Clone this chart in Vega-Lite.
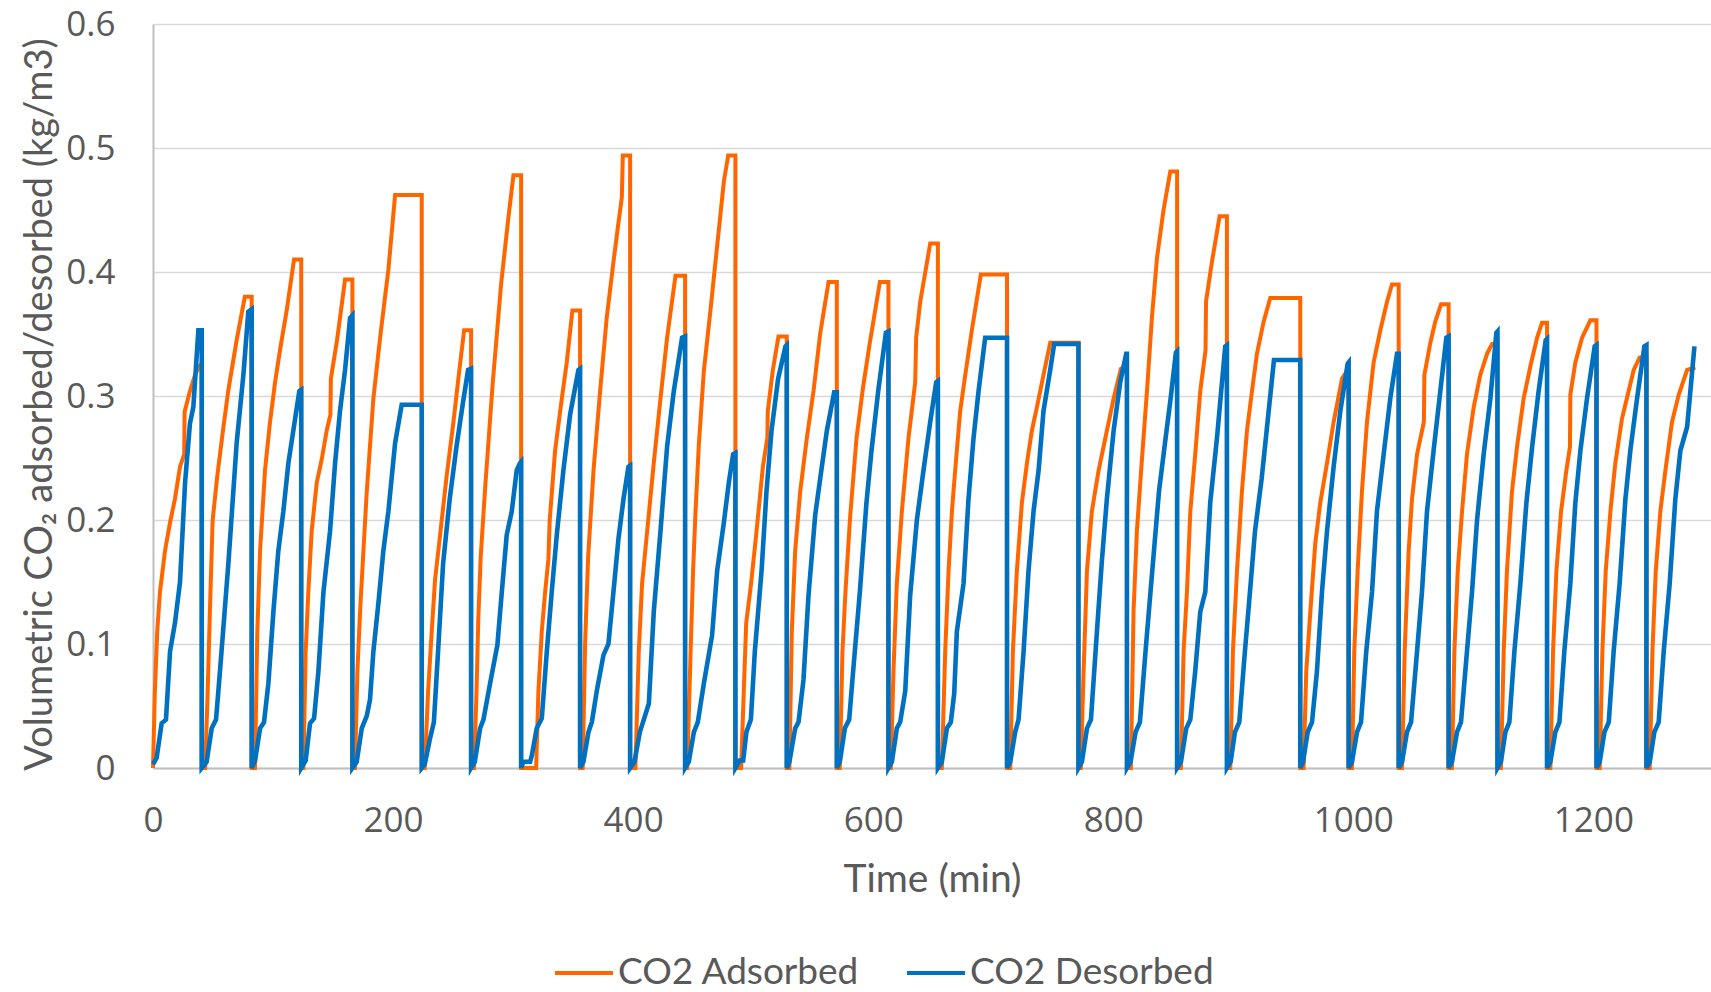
{
"$schema": "https://vega.github.io/schema/vega-lite/v6.json",
"width": 1558, "height": 744,
"autosize": "none",
"padding": {"left": 153, "top": 24, "right": 0, "bottom": 224},
"background": "white",
"config": {"view": {"stroke": null}, "font": "Lato"},
"datasets": {
"ads": [
{"t":0,"v":0},{"t":1.5,"v":0.06},{"t":3.5,"v":0.11},{"t":5.8,"v":0.142},{"t":10,"v":0.175},{"t":14.2,"v":0.198},{"t":18.3,"v":0.217},{"t":22.5,"v":0.243},{"t":26,"v":0.253},{"t":26.3,"v":0.287},{"t":30.8,"v":0.304},{"t":35,"v":0.317},{"t":38.6,"v":0.324},{"t":40.6,"v":0.326},{"t":40.6,"v":0},
{"t":43.5,"v":0},{"t":45.5,"v":0.06},{"t":47.5,"v":0.13},{"t":49.7,"v":0.2},{"t":53.5,"v":0.235},{"t":58,"v":0.27},{"t":62.8,"v":0.305},{"t":69.7,"v":0.345},{"t":76.5,"v":0.38},{"t":82.2,"v":0.38},{"t":82.2,"v":0},
{"t":85,"v":0},{"t":86.9,"v":0.11},{"t":89.2,"v":0.175},{"t":93.3,"v":0.24},{"t":97.5,"v":0.279},{"t":101.7,"v":0.311},{"t":105.8,"v":0.337},{"t":111.4,"v":0.369},{"t":117.5,"v":0.41},{"t":123.5,"v":0.41},{"t":123.5,"v":0},
{"t":125.3,"v":0},{"t":127.2,"v":0.094},{"t":129.4,"v":0.142},{"t":132.2,"v":0.191},{"t":136.4,"v":0.23},{"t":140.6,"v":0.249},{"t":144.7,"v":0.272},{"t":147.8,"v":0.285},{"t":148.2,"v":0.314},{"t":153,"v":0.343},{"t":155.8,"v":0.363},{"t":160,"v":0.394},{"t":166.1,"v":0.394},{"t":166.1,"v":0},
{"t":168.3,"v":0},{"t":170.3,"v":0.078},{"t":172.5,"v":0.126},{"t":175.3,"v":0.175},{"t":178.1,"v":0.223},{"t":183.6,"v":0.298},{"t":189.2,"v":0.347},{"t":196.1,"v":0.402},{"t":201.7,"v":0.462},{"t":223.9,"v":0.462},{"t":223.9,"v":0},
{"t":226.4,"v":0},{"t":229.2,"v":0.062},{"t":232.2,"v":0.11},{"t":235,"v":0.152},{"t":239.2,"v":0.188},{"t":244.7,"v":0.236},{"t":250.3,"v":0.279},{"t":254.4,"v":0.314},{"t":259.2,"v":0.353},{"t":265,"v":0.353},{"t":265,"v":0},
{"t":267.5,"v":0},{"t":269.5,"v":0.06},{"t":271,"v":0.12},{"t":273,"v":0.17},{"t":277,"v":0.23},{"t":283,"v":0.31},{"t":290,"v":0.39},{"t":296.1,"v":0.444},{"t":300.3,"v":0.478},{"t":306.7,"v":0.478},{"t":306.7,"v":0},
{"t":319.2,"v":0},{"t":321.1,"v":0.062},{"t":323.9,"v":0.11},{"t":326.7,"v":0.142},{"t":329.4,"v":0.168},{"t":330.5,"v":0.2},{"t":335,"v":0.256},{"t":340.6,"v":0.298},{"t":344.7,"v":0.327},{"t":349.4,"v":0.369},{"t":355.8,"v":0.369},{"t":355.8,"v":0},
{"t":358,"v":0},{"t":360,"v":0.1},{"t":362.5,"v":0.17},{"t":367,"v":0.24},{"t":372.5,"v":0.304},{"t":378,"v":0.363},{"t":383.6,"v":0.408},{"t":387.8,"v":0.44},{"t":390.6,"v":0.46},{"t":391.4,"v":0.494},{"t":397.5,"v":0.494},{"t":397.5,"v":0},
{"t":401.9,"v":0},{"t":404.7,"v":0.094},{"t":407.5,"v":0.149},{"t":411.7,"v":0.191},{"t":417.2,"v":0.246},{"t":422.8,"v":0.298},{"t":428.3,"v":0.347},{"t":435.3,"v":0.397},{"t":443.3,"v":0.397},{"t":443.3,"v":0},
{"t":445.1,"v":0},{"t":447.9,"v":0.094},{"t":450,"v":0.16},{"t":452,"v":0.207},{"t":454.7,"v":0.26},{"t":458.9,"v":0.32},{"t":464.4,"v":0.369},{"t":470,"v":0.421},{"t":475.6,"v":0.473},{"t":479.2,"v":0.494},{"t":485.2,"v":0.494},{"t":485.2,"v":0},
{"t":490,"v":0},{"t":492.2,"v":0.062},{"t":494.2,"v":0.117},{"t":498.3,"v":0.149},{"t":502.5,"v":0.188},{"t":508.1,"v":0.243},{"t":511.8,"v":0.266},{"t":512.2,"v":0.288},{"t":516.4,"v":0.321},{"t":521.1,"v":0.348},{"t":528,"v":0.348},{"t":528,"v":0},
{"t":530.2,"v":0},{"t":532.2,"v":0.11},{"t":535,"v":0.175},{"t":539.2,"v":0.223},{"t":544.7,"v":0.266},{"t":550.3,"v":0.304},{"t":555.8,"v":0.35},{"t":562.8,"v":0.392},{"t":569.7,"v":0.392},{"t":569.7,"v":0},
{"t":572.2,"v":0},{"t":574.4,"v":0.094},{"t":576.9,"v":0.142},{"t":580.6,"v":0.2},{"t":586.1,"v":0.266},{"t":591.7,"v":0.308},{"t":597.2,"v":0.343},{"t":605.6,"v":0.392},{"t":612.7,"v":0.392},{"t":612.7,"v":0},
{"t":614.7,"v":0},{"t":616.9,"v":0.078},{"t":619.7,"v":0.149},{"t":623.9,"v":0.207},{"t":629.4,"v":0.266},{"t":635,"v":0.311},{"t":635.8,"v":0.347},{"t":639.2,"v":0.376},{"t":647.5,"v":0.423},{"t":653.9,"v":0.423},{"t":653.9,"v":0},
{"t":657.2,"v":0},{"t":660,"v":0.094},{"t":662.8,"v":0.159},{"t":665.6,"v":0.207},{"t":668.3,"v":0.24},{"t":672.5,"v":0.288},{"t":676.7,"v":0.317},{"t":682.2,"v":0.353},{"t":689.7,"v":0.398},{"t":711.5,"v":0.398},{"t":711.5,"v":0},
{"t":714.2,"v":0},{"t":716.4,"v":0.094},{"t":719.7,"v":0.159},{"t":723.9,"v":0.214},{"t":728.1,"v":0.246},{"t":732.2,"v":0.272},{"t":736.4,"v":0.291},{"t":741.9,"v":0.317},{"t":747.5,"v":0.343},{"t":771,"v":0.343},{"t":771,"v":0},
{"t":773,"v":0},{"t":775.3,"v":0.078},{"t":778.1,"v":0.159},{"t":782.2,"v":0.207},{"t":787.8,"v":0.24},{"t":794.7,"v":0.272},{"t":800.3,"v":0.298},{"t":806.4,"v":0.322},{"t":811.4,"v":0.325},{"t":811.4,"v":0},
{"t":814.7,"v":0},{"t":816.9,"v":0.126},{"t":819.7,"v":0.191},{"t":823.9,"v":0.249},{"t":828.1,"v":0.304},{"t":832.2,"v":0.363},{"t":836.4,"v":0.411},{"t":841.9,"v":0.45},{"t":847.5,"v":0.481},{"t":853.2,"v":0.481},{"t":853.2,"v":0},
{"t":856.4,"v":0},{"t":858.6,"v":0.094},{"t":861.4,"v":0.142},{"t":864.2,"v":0.207},{"t":868.3,"v":0.253},{"t":872.5,"v":0.304},{"t":876.9,"v":0.337},{"t":877.3,"v":0.376},{"t":882.2,"v":0.408},{"t":888.6,"v":0.445},{"t":894.7,"v":0.445},{"t":894.7,"v":0},
{"t":897.5,"v":0},{"t":899.7,"v":0.094},{"t":903.1,"v":0.159},{"t":907.2,"v":0.223},{"t":911.4,"v":0.272},{"t":915.6,"v":0.304},{"t":919.7,"v":0.334},{"t":925.3,"v":0.36},{"t":930.8,"v":0.379},{"t":955.8,"v":0.379},{"t":955.8,"v":0},
{"t":958.6,"v":0},{"t":960.8,"v":0.078},{"t":964.2,"v":0.126},{"t":968.3,"v":0.181},{"t":972.5,"v":0.214},{"t":978.1,"v":0.246},{"t":983.6,"v":0.279},{"t":990.6,"v":0.314},{"t":996.1,"v":0.322},{"t":996.1,"v":0},
{"t":998.9,"v":0},{"t":1000.8,"v":0.094},{"t":1003.6,"v":0.159},{"t":1007.2,"v":0.223},{"t":1011.4,"v":0.279},{"t":1016.9,"v":0.327},{"t":1022.5,"v":0.353},{"t":1028.1,"v":0.376},{"t":1032.2,"v":0.39},{"t":1037.8,"v":0.39},{"t":1037.8,"v":0},
{"t":1040.6,"v":0},{"t":1042.8,"v":0.094},{"t":1046.1,"v":0.175},{"t":1048.9,"v":0.217},{"t":1053.1,"v":0.253},{"t":1058.8,"v":0.279},{"t":1059.2,"v":0.317},{"t":1064.2,"v":0.343},{"t":1068.3,"v":0.36},{"t":1073.1,"v":0.374},{"t":1079.4,"v":0.374},{"t":1079.4,"v":0},
{"t":1082.2,"v":0},{"t":1084.2,"v":0.094},{"t":1087,"v":0.159},{"t":1090.6,"v":0.207},{"t":1094.7,"v":0.253},{"t":1100.3,"v":0.291},{"t":1105.8,"v":0.317},{"t":1111.4,"v":0.334},{"t":1115.6,"v":0.342},{"t":1120.1,"v":0.343},{"t":1120.1,"v":0},
{"t":1123,"v":0},{"t":1125.3,"v":0.094},{"t":1128,"v":0.159},{"t":1132.2,"v":0.223},{"t":1136.4,"v":0.259},{"t":1141.9,"v":0.298},{"t":1147.5,"v":0.324},{"t":1153.1,"v":0.347},{"t":1157.2,"v":0.359},{"t":1161.4,"v":0.359},{"t":1161.4,"v":0},
{"t":1164.2,"v":0},{"t":1166.4,"v":0.094},{"t":1169.2,"v":0.159},{"t":1173.1,"v":0.207},{"t":1177.5,"v":0.24},{"t":1180.5,"v":0.259},{"t":1180.8,"v":0.301},{"t":1185,"v":0.327},{"t":1190.6,"v":0.347},{"t":1197.5,"v":0.361},{"t":1202.6,"v":0.361},{"t":1202.6,"v":0},
{"t":1205.3,"v":0},{"t":1207.5,"v":0.094},{"t":1210.3,"v":0.159},{"t":1214.2,"v":0.207},{"t":1218.3,"v":0.246},{"t":1223.9,"v":0.282},{"t":1229.4,"v":0.304},{"t":1233.6,"v":0.321},{"t":1238.6,"v":0.331},{"t":1244.2,"v":0.332},{"t":1244.2,"v":0},
{"t":1247,"v":0},{"t":1249.2,"v":0.094},{"t":1252,"v":0.159},{"t":1255.8,"v":0.207},{"t":1260,"v":0.24},{"t":1265.5,"v":0.279},{"t":1271.1,"v":0.301},{"t":1278.1,"v":0.321},{"t":1285,"v":0.323}
],
"des": [
{"t":0,"v":0.003},{"t":3,"v":0.008},{"t":7.2,"v":0.036},{"t":10.8,"v":0.039},{"t":14.2,"v":0.094},{"t":18.3,"v":0.117},{"t":22.5,"v":0.15},{"t":26.7,"v":0.23},{"t":30.8,"v":0.278},{"t":33.6,"v":0.291},{"t":37.8,"v":0.353},{"t":40.6,"v":0.353},{"t":40.6,"v":0},
{"t":44.7,"v":0.005},{"t":48.9,"v":0.032},{"t":52.5,"v":0.039},{"t":55.8,"v":0.078},{"t":62.8,"v":0.165},{"t":69.7,"v":0.262},{"t":75.3,"v":0.317},{"t":79.4,"v":0.368},{"t":82.2,"v":0.37},{"t":82.2,"v":0},
{"t":85,"v":0.006},{"t":89.2,"v":0.032},{"t":92.5,"v":0.037},{"t":96.1,"v":0.068},{"t":100.3,"v":0.126},{"t":104.4,"v":0.175},{"t":108.6,"v":0.207},{"t":112.8,"v":0.246},{"t":116.9,"v":0.272},{"t":121.9,"v":0.304},{"t":123.5,"v":0.305},{"t":123.5,"v":0},
{"t":127.2,"v":0.006},{"t":130.8,"v":0.036},{"t":134.2,"v":0.04},{"t":137.8,"v":0.078},{"t":142,"v":0.142},{"t":147.5,"v":0.191},{"t":151.7,"v":0.246},{"t":155.8,"v":0.288},{"t":160,"v":0.321},{"t":164.2,"v":0.363},{"t":166.1,"v":0.365},{"t":166.1,"v":0},
{"t":169.7,"v":0.005},{"t":173.9,"v":0.032},{"t":178.1,"v":0.042},{"t":180.8,"v":0.055},{"t":183.6,"v":0.094},{"t":187.8,"v":0.133},{"t":191.9,"v":0.175},{"t":196.1,"v":0.207},{"t":201.7,"v":0.262},{"t":207.2,"v":0.293},{"t":223.9,"v":0.293},{"t":223.9,"v":0},
{"t":226.4,"v":0.003},{"t":230.6,"v":0.023},{"t":234,"v":0.037},{"t":237.5,"v":0.094},{"t":241.7,"v":0.165},{"t":247.2,"v":0.217},{"t":252.8,"v":0.259},{"t":258.3,"v":0.295},{"t":262.5,"v":0.321},{"t":265,"v":0.322},{"t":265,"v":0},
{"t":268.1,"v":0.005},{"t":272.5,"v":0.032},{"t":275.3,"v":0.039},{"t":280.8,"v":0.068},{"t":286.9,"v":0.099},{"t":290.6,"v":0.142},{"t":294.7,"v":0.188},{"t":298.9,"v":0.207},{"t":303,"v":0.24},{"t":305.8,"v":0.246},{"t":306.7,"v":0.247},{"t":306.7,"v":0},
{"t":308.6,"v":0.005},{"t":314.2,"v":0.005},{"t":315.6,"v":0.01},{"t":319.7,"v":0.032},{"t":323.9,"v":0.04},{"t":328.1,"v":0.094},{"t":332.2,"v":0.142},{"t":336.4,"v":0.188},{"t":341.9,"v":0.24},{"t":347.5,"v":0.285},{"t":354.4,"v":0.321},{"t":355.8,"v":0.322},{"t":355.8,"v":0},
{"t":358.6,"v":0.005},{"t":362.8,"v":0.029},{"t":365.6,"v":0.037},{"t":369.7,"v":0.062},{"t":375.3,"v":0.091},{"t":379.4,"v":0.1},{"t":383.6,"v":0.142},{"t":387.8,"v":0.185},{"t":392,"v":0.217},{"t":396.1,"v":0.243},{"t":397.5,"v":0.244},{"t":397.5,"v":0},
{"t":401.1,"v":0.005},{"t":405.6,"v":0.029},{"t":408.9,"v":0.039},{"t":413.1,"v":0.052},{"t":417.2,"v":0.126},{"t":422.8,"v":0.191},{"t":428.3,"v":0.259},{"t":433.9,"v":0.304},{"t":440.8,"v":0.347},{"t":443.3,"v":0.348},{"t":443.3,"v":0},
{"t":446.4,"v":0.005},{"t":450.6,"v":0.029},{"t":453.9,"v":0.037},{"t":458.9,"v":0.068},{"t":465.8,"v":0.107},{"t":470,"v":0.159},{"t":475.6,"v":0.198},{"t":479.7,"v":0.23},{"t":483.3,"v":0.253},{"t":485.2,"v":0.254},{"t":485.2,"v":0},
{"t":488.8,"v":0.006},{"t":491.7,"v":0.006},{"t":494.4,"v":0.029},{"t":498.1,"v":0.039},{"t":501.4,"v":0.094},{"t":507,"v":0.159},{"t":511.1,"v":0.223},{"t":515.3,"v":0.272},{"t":520.8,"v":0.314},{"t":526.9,"v":0.34},{"t":528,"v":0.341},{"t":528,"v":0},
{"t":530.2,"v":0.005},{"t":535,"v":0.032},{"t":537.8,"v":0.037},{"t":541.9,"v":0.071},{"t":546.1,"v":0.139},{"t":551.7,"v":0.204},{"t":555.8,"v":0.233},{"t":561.4,"v":0.272},{"t":567.5,"v":0.303},{"t":569.7,"v":0.303},{"t":569.7,"v":0},
{"t":572.2,"v":0.005},{"t":576.4,"v":0.032},{"t":580,"v":0.039},{"t":583.3,"v":0.078},{"t":588.9,"v":0.142},{"t":594.4,"v":0.214},{"t":598.6,"v":0.256},{"t":604.2,"v":0.304},{"t":610.6,"v":0.351},{"t":612.7,"v":0.352},{"t":612.7,"v":0},
{"t":615.6,"v":0.005},{"t":619.7,"v":0.032},{"t":622.5,"v":0.037},{"t":626.7,"v":0.062},{"t":630.8,"v":0.139},{"t":636.4,"v":0.2},{"t":641.9,"v":0.24},{"t":647.5,"v":0.279},{"t":652.5,"v":0.311},{"t":653.9,"v":0.312},{"t":653.9,"v":0},
{"t":657.2,"v":0.005},{"t":661.4,"v":0.032},{"t":664.7,"v":0.037},{"t":667.5,"v":0.06},{"t":669.7,"v":0.11},{"t":675.3,"v":0.149},{"t":679.4,"v":0.217},{"t":683.6,"v":0.266},{"t":687.8,"v":0.304},{"t":693.3,"v":0.347},{"t":711.5,"v":0.347},{"t":711.5,"v":0},
{"t":714.2,"v":0.005},{"t":718.3,"v":0.029},{"t":721.1,"v":0.039},{"t":725.3,"v":0.094},{"t":729.4,"v":0.159},{"t":733.6,"v":0.207},{"t":737.8,"v":0.24},{"t":741.9,"v":0.288},{"t":747.5,"v":0.321},{"t":750.8,"v":0.342},{"t":771,"v":0.342},{"t":771,"v":0},
{"t":773.9,"v":0.005},{"t":778.1,"v":0.032},{"t":781.4,"v":0.039},{"t":786.4,"v":0.11},{"t":790.6,"v":0.168},{"t":794.7,"v":0.217},{"t":800.3,"v":0.272},{"t":805.8,"v":0.311},{"t":810.8,"v":0.334},{"t":811.4,"v":0.334},{"t":811.4,"v":0},
{"t":814.4,"v":0.005},{"t":818.6,"v":0.029},{"t":822.2,"v":0.037},{"t":826.9,"v":0.094},{"t":832.5,"v":0.159},{"t":838.1,"v":0.223},{"t":843.6,"v":0.266},{"t":847.8,"v":0.298},{"t":852.2,"v":0.335},{"t":853.2,"v":0.336},{"t":853.2,"v":0},
{"t":856.4,"v":0.005},{"t":860.8,"v":0.032},{"t":864.2,"v":0.039},{"t":868.3,"v":0.078},{"t":872.5,"v":0.126},{"t":876.7,"v":0.142},{"t":880.8,"v":0.214},{"t":886.4,"v":0.266},{"t":893.3,"v":0.34},{"t":894.7,"v":0.341},{"t":894.7,"v":0},
{"t":897.8,"v":0.005},{"t":901.4,"v":0.029},{"t":905,"v":0.037},{"t":909.7,"v":0.094},{"t":913.9,"v":0.142},{"t":918.1,"v":0.191},{"t":923.6,"v":0.233},{"t":927.8,"v":0.272},{"t":933.9,"v":0.329},{"t":955.8,"v":0.329},{"t":955.8,"v":0},
{"t":958.1,"v":0.005},{"t":962,"v":0.029},{"t":965.6,"v":0.037},{"t":969.7,"v":0.078},{"t":973.9,"v":0.142},{"t":978.1,"v":0.191},{"t":983.6,"v":0.243},{"t":989.2,"v":0.288},{"t":995.3,"v":0.326},{"t":996.1,"v":0.327},{"t":996.1,"v":0},
{"t":998.9,"v":0.005},{"t":1003.1,"v":0.029},{"t":1006.4,"v":0.037},{"t":1010.8,"v":0.094},{"t":1015.6,"v":0.142},{"t":1019.7,"v":0.207},{"t":1025.3,"v":0.253},{"t":1030.8,"v":0.298},{"t":1036.4,"v":0.334},{"t":1037.8,"v":0.334},{"t":1037.8,"v":0},
{"t":1040.6,"v":0.005},{"t":1044.7,"v":0.029},{"t":1048.1,"v":0.037},{"t":1053.1,"v":0.094},{"t":1057.2,"v":0.142},{"t":1061.4,"v":0.207},{"t":1066.9,"v":0.256},{"t":1072.5,"v":0.304},{"t":1077.5,"v":0.347},{"t":1079.4,"v":0.348},{"t":1079.4,"v":0},
{"t":1082.2,"v":0.005},{"t":1086.4,"v":0.029},{"t":1089.7,"v":0.037},{"t":1094.7,"v":0.094},{"t":1098.9,"v":0.142},{"t":1103.1,"v":0.2},{"t":1108.6,"v":0.253},{"t":1114.2,"v":0.298},{"t":1119.2,"v":0.351},{"t":1120.1,"v":0.352},{"t":1120.1,"v":0},
{"t":1123,"v":0.005},{"t":1126.7,"v":0.029},{"t":1130,"v":0.037},{"t":1134.2,"v":0.094},{"t":1139.2,"v":0.149},{"t":1144.2,"v":0.214},{"t":1149,"v":0.259},{"t":1154.4,"v":0.304},{"t":1160.3,"v":0.345},{"t":1161.4,"v":0.346},{"t":1161.4,"v":0},
{"t":1164.2,"v":0.005},{"t":1168.3,"v":0.029},{"t":1171.7,"v":0.037},{"t":1175.8,"v":0.094},{"t":1180.8,"v":0.149},{"t":1185,"v":0.214},{"t":1189.2,"v":0.256},{"t":1194.7,"v":0.298},{"t":1201.1,"v":0.34},{"t":1202.6,"v":0.341},{"t":1202.6,"v":0},
{"t":1205.3,"v":0.005},{"t":1209.2,"v":0.029},{"t":1212.8,"v":0.037},{"t":1216.9,"v":0.094},{"t":1221.9,"v":0.149},{"t":1226.7,"v":0.217},{"t":1230.8,"v":0.256},{"t":1236.4,"v":0.298},{"t":1242.5,"v":0.34},{"t":1244.2,"v":0.341},{"t":1244.2,"v":0},
{"t":1247,"v":0.005},{"t":1250.8,"v":0.029},{"t":1254.4,"v":0.037},{"t":1258.6,"v":0.094},{"t":1263.6,"v":0.149},{"t":1268.3,"v":0.217},{"t":1272.5,"v":0.256},{"t":1278.1,"v":0.275},{"t":1284.2,"v":0.34}
]
},
"encoding": {
  "x": {"field": "t", "type": "quantitative", "title": "Time (min)",
    "scale": {"domain": [0, 1298], "nice": false, "zero": false},
    "axis": {"values": [0,200,400,600,800,1000,1200], "format": "d", "grid": false, "ticks": false, "domain": true, "domainColor": "#BFBFBF", "domainWidth": 2,
      "labelFont": "Open Sans", "labelFontSize": 35, "labelColor": "#595959", "labelPadding": 35, "labelFlush": false,
      "titleFont": "Lato", "titleFontSize": 39, "titleFontWeight": "normal", "titleColor": "#595959", "titlePadding": 22}},
  "y": {"field": "v", "type": "quantitative", "title": "Volumetric CO₂ adsorbed/desorbed (kg/m3)",
    "scale": {"domain": [0, 0.6], "nice": false},
    "axis": {"values": [0,0.1,0.2,0.3,0.4,0.5,0.6], "grid": true, "gridColor": "#D9D9D9", "gridWidth": 1.5, "ticks": false, "domain": true, "domainColor": "#BFBFBF", "domainWidth": 2,
      "labelExpr": "datum.value == 0 ? '0' : format(datum.value, '.1f')",
      "labelFont": "Open Sans", "labelFontSize": 35, "labelColor": "#595959", "labelPadding": 38,
      "titleFont": "Lato", "titleFontSize": 38, "titleFontWeight": "normal", "titleColor": "#595959", "titlePadding": 6, "titleY": 380}},
  "order": {"value": null}
},
"layer": [
  {"data": {"name": "ads"}, "mark": {"type": "line", "strokeWidth": 4},
   "encoding": {"color": {"datum": "CO2 Adsorbed",
     "scale": {"domain": ["CO2 Adsorbed", "CO2 Desorbed"], "range": ["#FF6600", "#0070C0"]},
     "legend": {"title": null, "orient": "none", "legendX": 400, "legendY": 918, "direction": "horizontal",
       "symbolType": "stroke", "symbolSize": 3364, "symbolStrokeWidth": 4, "labelFont": "Lato", "labelFontSize": 37, "labelLimit": 0,
       "labelColor": "#595959", "labelOffset": 3, "columnPadding": 39}}}},
  {"data": {"name": "des"}, "mark": {"type": "line", "strokeWidth": 4.6},
   "encoding": {"color": {"datum": "CO2 Desorbed"}}}
]
}
